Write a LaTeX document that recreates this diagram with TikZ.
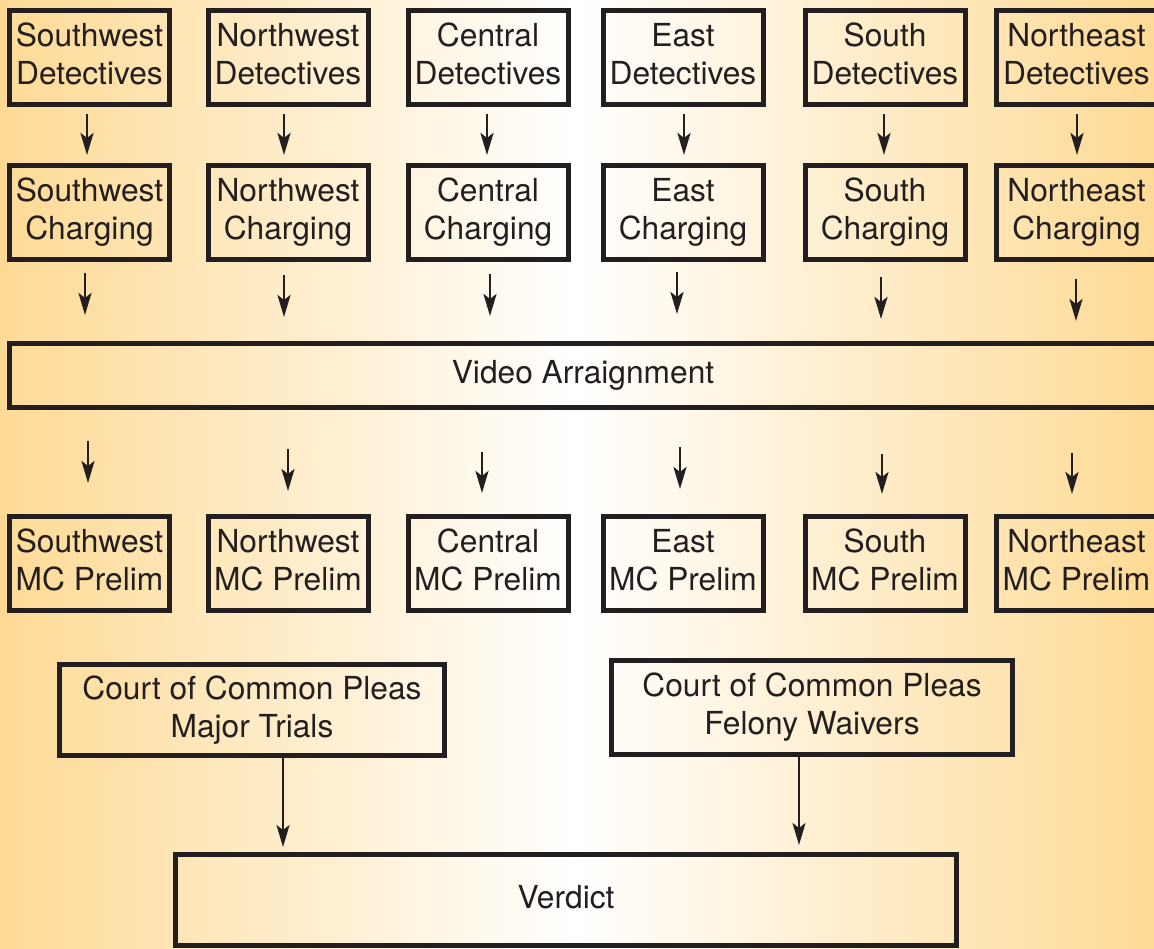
\documentclass[tikz,border=0pt]{standalone}
\usepackage{fontspec}
\setmainfont{TeX Gyre Heros}
\usetikzlibrary{arrows.meta}
\definecolor{bg}{HTML}{FEDA95}
\definecolor{ink}{HTML}{231F20}
\tikzset{
  box/.style={draw=ink, line width=5pt, text=ink, align=center, inner sep=2pt, text depth=7pt,
    font=\fontsize{31.7pt}{38pt}\selectfont, minimum width=160pt, minimum height=94pt},
  shortarrow/.style={draw=ink, line width=2.7pt, -{Stealth[length=22pt,width=13pt,inset=5pt]}},
  longarrow/.style={draw=ink, line width=2pt, -{Stealth[length=22pt,width=13pt,inset=5pt]}}
}
\begin{document}
\begin{tikzpicture}[x=1pt,y=-1pt]
\useasboundingbox (0,0) rectangle (1154,948);
\shade[left color=bg, right color=bg, middle color=white] (0,0) rectangle (1154,948);

% row 1: detectives
\node[box] (d1) at (89.5,57.5) {Southwest\\Detectives};
\node[box] (d2) at (288,57.5) {Northwest\\Detectives};
\node[box] (d3) at (488,57.5) {Central\\Detectives};
\node[box] (d4) at (683,57.5) {East\\Detectives};
\node[box] (d5) at (885,57.5) {South\\Detectives};
\node[box] (d6) at (1076.5,57.5) {Northeast\\Detectives};

% row 2: charging
\node[box] (c1) at (89.5,212.5) {Southwest\\Charging};
\node[box] (c2) at (288,212.5) {Northwest\\Charging};
\node[box] (c3) at (488,212.5) {Central\\Charging};
\node[box] (c4) at (683,212.5) {East\\Charging};
\node[box] (c5) at (885,212.5) {South\\Charging};
\node[box] (c6) at (1076.5,212.5) {Northeast\\Charging};

% video arraignment
\node[box, minimum width=1147.5pt, minimum height=64pt] (va) at (583,375.5) {Video Arraignment};

% row 4: MC prelim
\node[box] (p1) at (89.5,563.5) {Southwest\\MC Prelim};
\node[box] (p2) at (288,563.5) {Northwest\\MC Prelim};
\node[box] (p3) at (488,563.5) {Central\\MC Prelim};
\node[box] (p4) at (683,563.5) {East\\MC Prelim};
\node[box] (p5) at (885,563.5) {South\\MC Prelim};
\node[box] (p6) at (1076.5,563.5) {Northeast\\MC Prelim};

% courts
\node[box, minimum width=385pt, minimum height=91pt] (mt) at (252,710) {Court of Common Pleas\\Major Trials};
\node[box, minimum width=401pt, minimum height=94pt] (fw) at (812,707.5) {Court of Common Pleas\\Felony Waivers};

% verdict
\node[box, minimum width=781pt, minimum height=91pt] (vd) at (566,900) {Verdict};

% short arrows row 1 -> row 2
\foreach \i/\x in {1/87,2/284,3/487,4/684,5/884,6/1077}{
  \coordinate (a\i s) at (\x,114);
  \coordinate (a\i e) at (\x,155);
  \draw[shortarrow] (a\i s) -- (a\i e);
}
% short arrows row 2 -> video
\foreach \i/\x/\ya/\yb in {1/85/273/315,2/284/275/317,3/490/274/316,4/677/272/314,5/881/277/319,6/1076/279/321}{
  \coordinate (b\i s) at (\x,\ya);
  \coordinate (b\i e) at (\x,\yb);
  \draw[shortarrow] (b\i s) -- (b\i e);
}
% short arrows video -> row 4
\foreach \i/\x/\ya/\yb in {1/88/441/483,2/288/449/491,3/482/452/493,4/680/447/489,5/882/454/494,6/1072/453/494}{
  \coordinate (e\i s) at (\x,\ya);
  \coordinate (e\i e) at (\x,\yb);
  \draw[shortarrow] (e\i s) -- (e\i e);
}

% long arrows to verdict
\coordinate (m1) at (283,847);
\coordinate (m2) at (799,845);
\draw[longarrow] (mt.south -| m1) -- (m1);
\draw[longarrow] (fw.south -| m2) -- (m2);
\end{tikzpicture}
\end{document}
